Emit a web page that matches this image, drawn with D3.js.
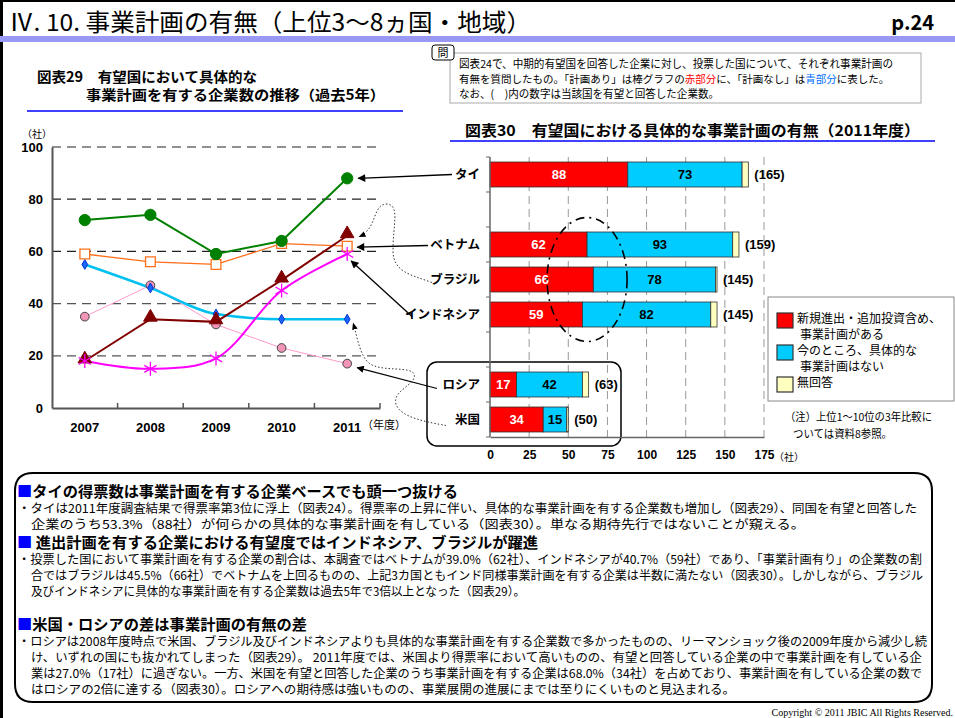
<!DOCTYPE html>
<html>
<head>
<meta charset="utf-8">
<script src="https://cdnjs.cloudflare.com/ajax/libs/d3/7.8.5/d3.min.js"></script>
<style>
  body { margin: 0; background: #fff; }
  svg { display: block; font-family: "Noto Sans CJK JP", "Noto Sans", sans-serif; }
</style>
</head>
<body>
<div id="chart"></div>
<script>
// --- data: left chart (図表29) ---
var years = ["2007", "2008", "2009", "2010", "2011"];
var thai = [72, 74, 59, 64, 88];
var vietnam = [59, 56, 55, 63, 62];
var usa = [55, 46, 36, 34, 34];
var russia = [35, 47, 32, 23, 17];
var brazil = [18, 34, 33, 49, 66];
var indonesia = [18, 15, 19, 45, 59];
var yTicks = [0, 20, 40, 60, 80, 100];

// --- data: right chart (図表30) ---
var barCountries = ["タイ", "ベトナム", "ブラジル", "インドネシア", "ロシア", "米国"];
var barSlots = [0, 2, 3, 4, 6, 7];
var planYes = [88, 62, 66, 59, 17, 34];
var planNo = [73, 93, 78, 82, 42, 15];
var noAnswer = [4, 4, 1, 4, 4, 1];
var totals = [165, 159, 145, 145, 63, 50];
var xTicks = [0, 25, 50, 75, 100, 125, 150, 175];

var legendLabels = [["新規進出・追加投資含め、", "事業計画がある"], ["今のところ、具体的な", "事業計画はない"], ["無回答"]];
var barColors = ["#ff0000", "#00ccff", "#ffffc0"];

var W = 955, H = 718;
var svg = d3.select("#chart").append("svg")
    .attr("width", W)
    .attr("height", H);

var defs = svg.append("defs");
defs.append("marker")
    .attr("id", "arr")
    .attr("viewBox", "0 0 10 10")
    .attr("refX", 9).attr("refY", 5)
    .attr("markerWidth", 7).attr("markerHeight", 6)
    .attr("orient", "auto")
  .append("path")
    .attr("d", "M0,0 L10,5 L0,10 z")
    .attr("fill", "#000");
defs.append("marker")
    .attr("id", "arrSmall")
    .attr("viewBox", "0 0 10 10")
    .attr("refX", 9).attr("refY", 5)
    .attr("markerWidth", 7).attr("markerHeight", 7)
    .attr("orient", "auto")
  .append("path")
    .attr("d", "M0,1 L10,5 L0,9 z")
    .attr("fill", "#000");

// page frame + header
svg.append("rect").attr("x", 0).attr("y", 0).attr("width", 3).attr("height", H).attr("fill", "#000");
svg.append("rect").attr("x", 0).attr("y", 0).attr("width", W).attr("height", 2).attr("fill", "#000");
svg.append("rect").attr("x", 0).attr("y", 36).attr("width", W).attr("height", 6).attr("fill", "#9999f5");
svg.append("text")
    .attr("x", 9).attr("y", 31)
    .attr("font-size", 24)
    .attr("textLength", 522).attr("lengthAdjust", "spacingAndGlyphs")
    .text("Ⅳ. 10. 事業計画の有無（上位3～8ヵ国・地域）");
svg.append("text")
    .attr("font-weight", "bold")
    .attr("x", 934).attr("y", 30)
    .attr("text-anchor", "end")
    .attr("font-size", 20)
    .text("p.24");

// helper for fitted text
function fitText(x, y, size, len, str, bold, color) {
  var t = svg.append("text")
      .attr("x", x).attr("y", y)
      .attr("font-size", size)
      .attr("fill", color || "#000")
      .text(str);
  if (bold) t.attr("font-weight", "bold");
  if (len) t.attr("textLength", len).attr("lengthAdjust", "spacingAndGlyphs");
  return t;
}

// titles
fitText(37, 82, 14, 220, "図表29　有望国において具体的な", true);
fitText(86, 100, 14, 299, "事業計画を有する企業数の推移（過去5年）", true);
svg.append("line").attr("x1", 27).attr("x2", 403).attr("y1", 111).attr("y2", 111)
    .attr("stroke", "#0000ff").attr("stroke-width", 1.5);

fitText(465, 136, 15, 455, "図表30　有望国における具体的な事業計画の有無（2011年度）", true);
svg.append("line").attr("x1", 450).attr("x2", 935).attr("y1", 141).attr("y2", 141)
    .attr("stroke", "#0000ff").attr("stroke-width", 1.5);

// 問 box + note
svg.append("rect").attr("x", 450).attr("y", 53).attr("width", 471).attr("height", 50)
    .attr("fill", "#fff").attr("stroke", "#aaa");
svg.append("rect").attr("x", 432).attr("y", 45).attr("width", 22).attr("height", 15).attr("rx", 3)
    .attr("fill", "#fff").attr("stroke", "#000");
svg.append("text").attr("x", 443).attr("y", 57).attr("text-anchor", "middle")
    .attr("font-size", 11).text("問");
fitText(459, 68, 11, 434, "図表24で、中期的有望国を回答した企業に対し、投票した国について、それぞれ事業計画の");

// note line 2 in coloured pieces, laid out side by side and fitted to width
var noteParts = [
  ["有無を質問したもの。「計画あり」は棒グラフの", "#000"],
  ["赤部分", "#ff0000"],
  ["に、「計画なし」は", "#000"],
  ["青部分", "#0070ff"],
  ["に表した。", "#000"]
];
var noteNodes = noteParts.map(function(p) {
  return svg.append("text").attr("y", 83).attr("font-size", 11).attr("fill", p[1]).text(p[0]);
});
var noteTotal = d3.sum(noteNodes, function(n) { return n.node().getComputedTextLength(); });
var noteScale = 431 / noteTotal;
var nx = 459;
noteNodes.forEach(function(n) {
  n.attr("font-size", 11 * noteScale).attr("x", nx);
  nx += n.node().getComputedTextLength();
});
fitText(459, 98, 11, 260, "なお、(　)内の数字は当該国を有望と回答した企業数。");

// ================= left line chart =================
var x = d3.scaleBand().domain(years).range([52, 380]);
var y = d3.scaleLinear().domain([0, 100]).range([408, 147]);

var gL = svg.append("g");
gL.selectAll(".grid")
    .data(yTicks.filter(function(d) { return d > 0; }))
    .enter().append("line")
    .attr("x1", 52).attr("x2", 380)
    .attr("y1", function(d) { return y(d); })
    .attr("y2", function(d) { return y(d); })
    .attr("stroke", function(d) { return d >= 60 ? "#222" : "#555"; })
    .attr("stroke-width", 1.2)
    .attr("stroke-dasharray", "9,6");

var yAxis = gL.append("g")
    .attr("transform", "translate(52,0)")
    .call(d3.axisLeft(y).tickValues(yTicks).tickSize(0).tickPadding(9));
yAxis.select(".domain").attr("stroke", "#555").attr("stroke-width", 2);
yAxis.selectAll("text").attr("font-size", 13).attr("font-weight", "bold")
    .attr("font-family", "Liberation Sans, Arial, sans-serif").attr("fill", "#000");

var xAxis = gL.append("g")
    .attr("transform", "translate(0,408)")
    .call(d3.axisBottom(x).tickSize(0).tickPadding(15));
xAxis.select(".domain").attr("stroke", "#555").attr("stroke-width", 2);
xAxis.selectAll("text").attr("font-size", 13).attr("font-weight", "bold")
    .attr("font-family", "Liberation Sans, Arial, sans-serif").attr("fill", "#000");
gL.selectAll(".xt")
    .data(years)
    .enter().append("line")
    .attr("x1", function(d, i) { return 52 + x.step() * (i + 1); })
    .attr("x2", function(d, i) { return 52 + x.step() * (i + 1); })
    .attr("y1", 408).attr("y2", 403)
    .attr("stroke", "#555").attr("stroke-width", 1.5);

gL.append("text").attr("x", 22).attr("y", 138).attr("font-size", 10).text("（社）");
gL.append("text").attr("x", 362).attr("y", 429).attr("font-size", 11).text("（年度）");

var lineSeries = [
  { name: "ロシア", values: russia, color: "#ff9acb", width: 1, marker: "circle", mfill: "#f294b8", mstroke: "#444", size: 60, curve: d3.curveLinear },
  { name: "米国", values: usa, color: "#00c0f0", width: 2.5, marker: "diamond", mfill: "#1a66ff", mstroke: "#0033cc", size: 28, curve: d3.curveMonotoneX },
  { name: "ベトナム", values: vietnam, color: "#ff6f1a", width: 1.3, marker: "square", mfill: "#fff", mstroke: "#ff6f1a", size: 95, curve: d3.curveLinear },
  { name: "ブラジル", values: brazil, color: "#800000", width: 2, marker: "triangle", mfill: "#800000", mstroke: "#800000", size: 80, curve: d3.curveLinear },
  { name: "インドネシア", values: indonesia, color: "#ff00ff", width: 2, marker: "star", mfill: "none", mstroke: "#ff00ff", size: 7, curve: d3.curveCatmullRom.alpha(0.5) },
  { name: "タイ", values: thai, color: "#008000", width: 2, marker: "circle", mfill: "#008000", mstroke: "#008000", size: 100, curve: d3.curveLinear }
];

var symbolTypes = { circle: d3.symbolCircle, diamond: d3.symbolDiamond, square: d3.symbolSquare, triangle: d3.symbolTriangle };

lineSeries.forEach(function(s) {
  var line = d3.line()
      .x(function(d, i) { return x(years[i]) + x.bandwidth() / 2; })
      .y(function(d) { return y(d); })
      .curve(s.curve);
  gL.append("path")
      .datum(s.values)
      .attr("d", line)
      .attr("fill", "none")
      .attr("stroke", s.color)
      .attr("stroke-width", s.width);
});

lineSeries.forEach(function(s) {
  var pts = gL.append("g").selectAll("g")
      .data(s.values)
      .enter().append("g")
      .attr("transform", function(d, i) { return "translate(" + (x(years[i]) + x.bandwidth() / 2) + "," + y(d) + ")"; });
  if (s.marker === "star") {
    var r = s.size;
    [[0, -r, 0, r], [-r * 0.87, -r * 0.5, r * 0.87, r * 0.5], [-r * 0.87, r * 0.5, r * 0.87, -r * 0.5]].forEach(function(c) {
      pts.append("line")
          .attr("x1", c[0]).attr("y1", c[1]).attr("x2", c[2]).attr("y2", c[3])
          .attr("stroke", s.mstroke).attr("stroke-width", 1.3);
    });
  } else {
    pts.append("path")
        .attr("d", d3.symbol().type(symbolTypes[s.marker]).size(s.size))
        .attr("transform", s.marker === "triangle" ? "translate(0,-2)" : null)
        .attr("fill", s.mfill)
        .attr("stroke", s.mstroke)
        .attr("stroke-width", s.marker === "square" ? 1.3 : 1);
  }
});

// ================= right bar chart =================
var xb = d3.scaleLinear().domain([0, 175]).range([490, 764]);
var yb = d3.scaleBand().domain(d3.range(8)).range([157, 437])
    .paddingInner(0.286).paddingOuter(0.143);
var gR = svg.append("g");

gR.selectAll(".vgrid")
    .data(xTicks.slice(1))
    .enter().append("line")
    .attr("x1", function(d) { return xb(d); })
    .attr("x2", function(d) { return xb(d); })
    .attr("y1", 157).attr("y2", 437)
    .attr("stroke", "#999").attr("stroke-width", 1)
    .attr("stroke-dasharray", "8,5");

// rounded box around ロシア/米国
gR.append("rect")
    .attr("x", 427).attr("y", yb(6) - 10)
    .attr("width", 194).attr("height", 84).attr("rx", 10)
    .attr("fill", "none").attr("stroke", "#000").attr("stroke-width", 1.5);

var barRows = barCountries.map(function(c, i) {
  return { name: c, slot: barSlots[i], segs: [planYes[i], planNo[i], noAnswer[i]], total: totals[i] };
});

var rows = gR.selectAll(".row")
    .data(barRows)
    .enter().append("g")
    .attr("transform", function(d) { return "translate(0," + yb(d.slot) + ")"; });

rows.each(function(d) {
  var g = d3.select(this);
  var start = 0;
  d.segs.forEach(function(v, k) {
    g.append("rect")
        .attr("x", xb(start)).attr("y", 0)
        .attr("width", xb(start + v) - xb(start))
        .attr("height", yb.bandwidth())
        .attr("fill", barColors[k])
        .attr("stroke", "#333").attr("stroke-width", 0.8);
    if (k < 2) {
      g.append("text")
          .attr("x", (xb(start) + xb(start + v)) / 2)
          .attr("y", yb.bandwidth() / 2 + 5)
          .attr("text-anchor", "middle")
          .attr("font-size", 13).attr("font-weight", "bold")
          .attr("font-family", "Liberation Sans, Arial, sans-serif")
          .attr("fill", k === 0 ? "#fff" : "#000")
          .text(v);
    }
    start += v;
  });
  g.append("text")
      .attr("x", xb(d.total) + 6)
      .attr("y", yb.bandwidth() / 2 + 5)
      .attr("font-size", 13).attr("font-weight", "bold")
      .attr("font-family", "Liberation Sans, Arial, sans-serif")
      .text("(" + d.total + ")");
  g.append("text")
      .attr("x", 480)
      .attr("y", yb.bandwidth() / 2 + 5)
      .attr("text-anchor", "end")
      .attr("font-size", 12.5).attr("font-weight", "bold")
      .text(d.name);
});

// dash-dot ellipse around ベトナム..インドネシア, drawn over the bars
gR.append("ellipse")
    .attr("cx", xb(62)).attr("cy", yb(3) + yb.bandwidth() / 2)
    .attr("rx", 40).attr("ry", 62)
    .attr("fill", "none").attr("stroke", "#000").attr("stroke-width", 1.6)
    .attr("stroke-dasharray", "9,5,2,5");

// bar axes
gR.append("line").attr("x1", 490).attr("x2", 490).attr("y1", 157).attr("y2", 437)
    .attr("stroke", "#666").attr("stroke-width", 1.5);
gR.selectAll(".ytk")
    .data(d3.range(9))
    .enter().append("line")
    .attr("x1", 486).attr("x2", 490)
    .attr("y1", function(d) { return 157 + yb.step() * d; })
    .attr("y2", function(d) { return 157 + yb.step() * d; })
    .attr("stroke", "#666").attr("stroke-width", 1);
var xbAxis = gR.append("g")
    .attr("transform", "translate(0,437)")
    .call(d3.axisBottom(xb).tickValues(xTicks).tickSize(0).tickPadding(13));
xbAxis.select(".domain").attr("stroke", "#666").attr("stroke-width", 1.5);
xbAxis.selectAll("text").attr("font-size", 12).attr("font-weight", "bold")
    .attr("font-family", "Liberation Sans, Arial, sans-serif").attr("fill", "#000");
gR.append("text").attr("x", 774).attr("y", 461).attr("font-size", 10).text("（社）");

// legend
var lg = svg.append("g");
lg.append("rect").attr("x", 768).attr("y", 297).attr("width", 186).attr("height", 104)
    .attr("fill", "#fff").attr("stroke", "#888");
var legendY = [313, 345, 377];
legendLabels.forEach(function(lines, i) {
  lg.append("rect").attr("x", 777).attr("y", legendY[i]).attr("width", 16).attr("height", 15)
      .attr("fill", barColors[i]).attr("stroke", "#333").attr("stroke-width", 1.2);
  lines.forEach(function(t, j) {
    lg.append("text").attr("x", j === 0 ? 797 : 800).attr("y", legendY[i] + 10 + j * 15.5)
        .attr("font-size", 12).text(t);
  });
});
fitText(785, 421, 11, 147, "（注）上位1～10位の3年比較に");
fitText(793, 438, 11, 99, "ついては資料8参照。");

// ================= annotation arrows =================
var gA = svg.append("g");
function cy(i) { return yb(barSlots[i]) + yb.bandwidth() / 2; }
var x11 = x("2011") + x.bandwidth() / 2;

// タイ
gA.append("line").attr("x1", 452).attr("y1", cy(0)).attr("x2", x11 + 11).attr("y2", y(thai[4]))
    .attr("stroke", "#000").attr("stroke-width", 1.3).attr("marker-end", "url(#arr)");
// ベトナム
gA.append("line").attr("x1", 428).attr("y1", cy(1) + 1).attr("x2", x11 + 10).attr("y2", y(vietnam[4]) + 1)
    .attr("stroke", "#000").attr("stroke-width", 1.3).attr("marker-end", "url(#arr)");
// インドネシア
gA.append("line").attr("x1", 412).attr("y1", cy(3) + 2).attr("x2", x11 + 4).attr("y2", y(indonesia[4]) + 7)
    .attr("stroke", "#000").attr("stroke-width", 1.3).attr("marker-end", "url(#arr)");
// ロシア
gA.append("line").attr("x1", 437).attr("y1", cy(4) + 4).attr("x2", x11 + 10).attr("y2", y(russia[4]) + 4)
    .attr("stroke", "#000").attr("stroke-width", 1.2).attr("marker-end", "url(#arr)");
// ブラジル (dotted)
var bx = x11 + 12, by = y(brazil[4]) + 1;
gA.append("path")
    .attr("d", "M432," + (cy(2) + 3) +
      " C410," + (cy(2) - 5) + " 393,272 393,250" +
      " C393,225 400,205 387,204" +
      " C372,204 378,228 " + bx + "," + by)
    .attr("fill", "none").attr("stroke", "#333").attr("stroke-width", 1)
    .attr("stroke-dasharray", "1.5,2").attr("marker-end", "url(#arrSmall)");
// 米国 (dotted)
var ux = x11 + 6, uy = y(usa[4]) + 4;
gA.append("path")
    .attr("d", "M446," + (cy(5) + 6) +
      " C430," + (cy(5) + 3) + " 400,418 396,404" +
      " C392,390 418,384 414,374" +
      " C410,366 384,372 370,364" +
      " C360,356 358,340 " + ux + "," + uy)
    .attr("fill", "none").attr("stroke", "#333").attr("stroke-width", 1)
    .attr("stroke-dasharray", "1.5,2").attr("marker-end", "url(#arrSmall)");

// ================= bottom text box =================
svg.append("path")
    .attr("d", "M33,473 H914 Q932,473 932,491 V684 Q932,702 914,702 H33 Q15,702 15,684 V491 Q15,473 33,473 Z")
    .attr("fill", "none").attr("stroke", "#000").attr("stroke-width", 2);

function heading(yy, len, str, gap) {
  var t = svg.append("text").attr("x", 17).attr("y", yy)
      .attr("font-size", 15).attr("font-weight", "bold")
      .attr("textLength", len).attr("lengthAdjust", "spacingAndGlyphs");
  t.append("tspan").attr("fill", "#0000ff").text("■");
  t.append("tspan").text((gap ? " " : "") + str);
}
heading(497, 441, "タイの得票数は事業計画を有する企業ベースでも頭一つ抜ける", false);
fitText(18, 513, 12, 899, "・タイは2011年度調査結果で得票率第3位に浮上（図表24）。得票率の上昇に伴い、具体的な事業計画を有する企業数も増加し（図表29）、同国を有望と回答した");
fitText(31, 529, 12, 774, "企業のうち53.3%（88社）が何らかの具体的な事業計画を有している（図表30）。単なる期待先行ではないことが窺える。");
heading(548, 521, "進出計画を有する企業における有望度ではインドネシア、ブラジルが躍進", true);
fitText(18, 564, 12, 904, "・投票した国において事業計画を有する企業の割合は、本調査ではベトナムが39.0%（62社）、インドネシアが40.7%（59社）であり、「事業計画有り」の企業数の割");
fitText(31, 580, 12, 892, "合ではブラジルは45.5%（66社）でベトナムを上回るものの、上記3カ国ともインド同様事業計画を有する企業は半数に満たない（図表30）。しかしながら、ブラジル");
fitText(31, 596, 12, 494, "及びインドネシアに具体的な事業計画を有する企業数は過去5年で3倍以上となった（図表29）。");
heading(630, 290, "米国・ロシアの差は事業計画の有無の差", false);
fitText(18, 646, 12, 909, "・ロシアは2008年度時点で米国、ブラジル及びインドネシアよりも具体的な事業計画を有する企業数で多かったものの、リーマンショック後の2009年度から減少し続");
fitText(31, 662, 12, 891, "け、いずれの国にも抜かれてしまった（図表29）。 2011年度では、米国より得票率において高いものの、有望と回答している企業の中で事業計画を有している企");
fitText(31, 678, 12, 891, "業は27.0%（17社）に過ぎない。一方、米国を有望と回答した企業のうち事業計画を有する企業は68.0%（34社）を占めており、事業計画を有している企業の数で");
fitText(31, 694, 12, 704, "はロシアの2倍に達する（図表30）。ロシアへの期待感は強いものの、事業展開の進展にまでは至りにくいものと見込まれる。");

svg.append("text")
    .attr("x", 953).attr("y", 716)
    .attr("text-anchor", "end")
    .attr("font-size", 10)
    .attr("font-family", "Liberation Serif, serif")
    .text("Copyright © 2011 JBIC All Rights Reserved.");
</script>
</body>
</html>
